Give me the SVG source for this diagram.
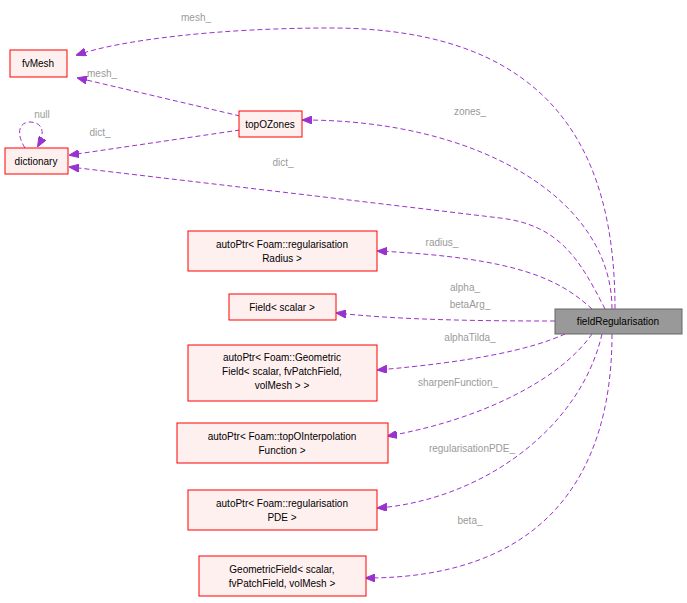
<svg xmlns="http://www.w3.org/2000/svg" width="687" height="603" viewBox="0 0 687 603">
<style>
.n rect{fill:#fff0f0;stroke:#ff0000;stroke-width:1}
.n text{font-family:"Liberation Sans",Arial,sans-serif;font-size:10px;fill:#000;text-anchor:middle}
.e path{fill:none;stroke:#9a32cd;stroke-width:1;stroke-dasharray:5,3}
.l{font-family:"Liberation Sans",Arial,sans-serif;font-size:10px;fill:#9a9a9a;text-anchor:middle}
</style>
<defs><marker id="a" markerWidth="10" markerHeight="8" refX="9" refY="4" orient="auto" markerUnits="userSpaceOnUse"><path d="M0,0 L10,4 L0,8 z" fill="#9a32cd" stroke="#9a32cd"/></marker></defs>
<rect width="687" height="603" fill="#fff"/>
<g class="e">
<path d="M615,309 C615,160 560,28 330,28 C220,28 120,40 77,55" marker-end="url(#a)"/>
<path d="M240,116 L78,78" marker-end="url(#a)"/>
<path d="M240,130 L70,155" marker-end="url(#a)"/>
<path d="M25,148 C15,132 20,122 30,122 C42,122 46,132 38,146" marker-end="url(#a)"/>
<path d="M612,309 C612,200 480,120 303,120" marker-end="url(#a)"/>
<path d="M605,309 C580,260 560,225 500,218 C350,200 180,180 70,167" marker-end="url(#a)"/>
<path d="M592,309 C560,280 520,258 378,251" marker-end="url(#a)"/>
<path d="M555,321 C480,321 400,320 337,313" marker-end="url(#a)"/>
<path d="M565,334 C530,350 470,362 378,370" marker-end="url(#a)"/>
<path d="M592,334 C560,380 480,420 388,436" marker-end="url(#a)"/>
<path d="M602,334 C580,430 480,500 378,508" marker-end="url(#a)"/>
<path d="M612,334 C612,480 540,578 366,578" marker-end="url(#a)"/>
</g>
<g class="l">
<text x="196" y="21">mesh_</text>
<text x="102" y="77">mesh_</text>
<text x="100" y="136">dict_</text>
<text x="42" y="118">null</text>
<text x="470" y="115">zones_</text>
<text x="283" y="166">dict_</text>
<text x="442" y="246">radius_</text>
<text x="465" y="291">alpha_</text>
<text x="470" y="308">betaArg_</text>
<text x="470" y="341">alphaTilda_</text>
<text x="458" y="386">sharpenFunction_</text>
<text x="472" y="452">regularisationPDE_</text>
<text x="470" y="524">beta_</text>
</g>
<g id="fvMesh" class="n"><rect x="10" y="50" width="57" height="27"/><text x="38" y="67">fvMesh</text></g>
<g id="dictionary" class="n"><rect x="5" y="148" width="63" height="26"/><text x="36" y="165">dictionary</text></g>
<g id="topOZones" class="n"><rect x="239" y="111" width="63" height="26"/><text x="270" y="128">topOZones</text></g>
<g id="radius" class="n"><rect x="188" y="231" width="189" height="40"/><text x="282" y="248">autoPtr&lt; Foam::regularisation</text><text x="282" y="262">Radius &gt;</text></g>
<g id="field" class="n"><rect x="229" y="294" width="107" height="26"/><text x="282" y="311">Field&lt; scalar &gt;</text></g>
<g id="geom" class="n"><rect x="188" y="345" width="189" height="56"/><text x="282" y="361">autoPtr&lt; Foam::Geometric</text><text x="282" y="375">Field&lt; scalar, fvPatchField,</text><text x="282" y="389">volMesh &gt; &gt;</text></g>
<g id="interp" class="n"><rect x="177" y="423" width="211" height="40"/><text x="282" y="440">autoPtr&lt; Foam::topOInterpolation</text><text x="282" y="454">Function &gt;</text></g>
<g id="pde" class="n"><rect x="188" y="490" width="189" height="40"/><text x="282" y="507">autoPtr&lt; Foam::regularisation</text><text x="282" y="521">PDE &gt;</text></g>
<g id="gf" class="n"><rect x="199" y="556" width="167" height="40"/><text x="282" y="573">GeometricField&lt; scalar,</text><text x="282" y="587">fvPatchField, volMesh &gt;</text></g>
<g id="fieldRegularisation" class="n"><rect x="555" y="309" width="127" height="25" style="fill:#999;stroke:#666"/><text x="618" y="325">fieldRegularisation</text></g>
</svg>
